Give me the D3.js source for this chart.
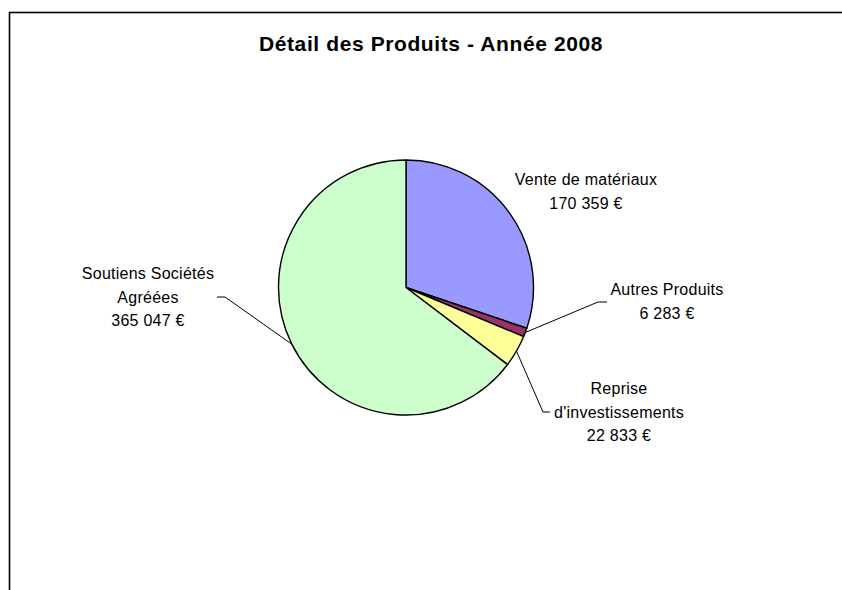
<!DOCTYPE html>
<html>
<head>
<meta charset="utf-8">
<script src="https://cdn.jsdelivr.net/npm/d3@7"></script>
<style>
  body { margin: 0; background: #fff; }
  text { font-family: "Liberation Sans", Arial, sans-serif; fill: #000; }
</style>
</head>
<body>
<div id="chart"></div>
<script>
// Data
var categories = ["Vente de matériaux", "Autres Produits", "Reprise d'investissements", "Soutiens Sociétés Agréées"];
var values = [170359, 6283, 22833, 365047];
var colors = ["#9999FF", "#993366", "#FFFF99", "#CCFFCC"];
// label lines as printed
var labelLines = [
  ["Vente de matériaux", "170 359 €"],
  ["Autres Produits", "6 283 €"],
  ["Reprise", "d'investissements", "22 833 €"],
  ["Soutiens Sociétés", "Agréées", "365 047 €"]
];

// Label layout (first baseline, centre x, leader elbow)
var labelLayout = [
  { x: 586, y: 185, elbow: null },
  { x: 667, y: 295, elbow: [[598, 302], [607, 302]] },
  { x: 619, y: 394, elbow: [[543, 412], [550, 412]] },
  { x: 148, y: 279, elbow: [[225, 297], [217, 297]] }
];

var width = 842, height = 590;
var cx = 406, cy = 287.5, radius = 127.5;

var svg = d3.select("#chart")
  .append("svg")
  .attr("width", width)
  .attr("height", height);

// chart frame
svg.append("rect")
  .attr("x", 9.5)
  .attr("y", 12.5)
  .attr("width", width)
  .attr("height", height)
  .attr("fill", "none")
  .attr("stroke", "#000")
  .attr("stroke-width", 1.6);

// title
svg.append("text")
  .attr("x", 431)
  .attr("y", 51)
  .attr("text-anchor", "middle")
  .style("font-size", "21px")
  .style("font-weight", "bold")
  .style("letter-spacing", "0.6px")
  .text("Détail des Produits - Année 2008");

var pie = d3.pie()
  .sort(null)
  .value(function(d) { return d; });

var arcs = pie(values);

var arc = d3.arc()
  .innerRadius(0)
  .outerRadius(radius);

var edgeArc = d3.arc()
  .innerRadius(radius)
  .outerRadius(radius);

var g = svg.append("g")
  .attr("transform", "translate(" + cx + "," + cy + ")");

g.selectAll("path")
  .data(arcs)
  .enter().append("path")
  .attr("d", arc)
  .attr("fill", function(d, i) { return colors[i]; })
  .attr("stroke", "#000")
  .attr("stroke-width", 1.4)
  .attr("stroke-linejoin", "round");

// leader lines
arcs.forEach(function(d, i) {
  var lay = labelLayout[i];
  if (!lay.elbow) return;
  var p = edgeArc.centroid(d);
  var pts = [[cx + p[0], cy + p[1]]].concat(lay.elbow);
  svg.append("path")
    .attr("d", d3.line()(pts))
    .attr("fill", "none")
    .attr("stroke", "#000")
    .attr("stroke-width", 1);
});

// labels
labelLines.forEach(function(lines, i) {
  var lay = labelLayout[i];
  var t = svg.append("text")
    .attr("text-anchor", "middle")
    .style("font-size", "16px")
    .style("letter-spacing", "0.25px");
  lines.forEach(function(line, k) {
    t.append("tspan")
      .attr("x", lay.x)
      .attr("y", lay.y + k * 23.5)
      .text(line);
  });
});
</script>
</body>
</html>
